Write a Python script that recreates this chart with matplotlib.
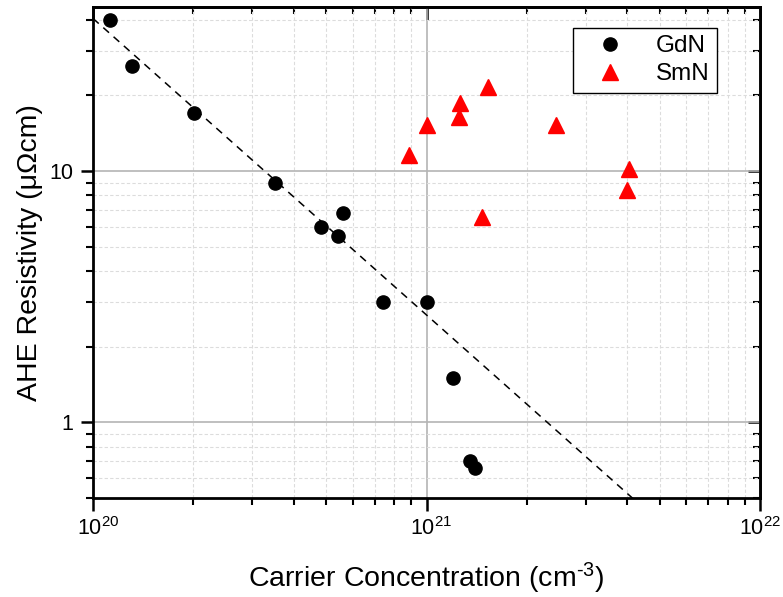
#!/usr/bin/env python3
"""AHE resistivity vs carrier concentration for GdN and SmN films."""

import matplotlib
matplotlib.use("Agg")
import matplotlib.pyplot as plt
import matplotlib.transforms as mtransforms
import numpy as np
from matplotlib.ticker import FixedLocator, LogLocator, NullFormatter

plt.rcParams["font.family"] = ["Liberation Sans", "DejaVu Sans"]
plt.rcParams["mathtext.fontset"] = "custom"
plt.rcParams["mathtext.rm"] = "Liberation Sans"
plt.rcParams["mathtext.it"] = "Liberation Sans:italic"

# GdN samples
gdn_n = [1.125e20, 1.31e20, 2.01e20, 3.51e20, 4.82e20, 5.6e20, 5.42e20,
         7.4e20, 1.0e21, 1.2e21, 1.35e21, 1.40e21]
gdn_rho = [40.0, 26.1, 17.0, 9.0, 6.0, 6.8, 5.5, 3.0, 3.0, 1.5, 0.70, 0.66]

# SmN samples
smn_n = [8.88e20, 1.0e21, 1.26e21, 1.25e21, 1.53e21, 2.44e21, 4.05e21,
         4.0e21, 1.47e21]
smn_rho = [11.6, 15.2, 18.6, 16.4, 21.6, 15.3, 10.2, 8.4, 6.55]

# power-law guide: rho = A * (n / 1e20) ** slope
fit_A = 40.5
fit_slope = -1.18


def main() -> None:
    fig = plt.figure(figsize=(7.83, 5.97), dpi=100)
    ax = fig.add_axes([0.1188, 0.1658, 0.8518, 0.8225])

    ax.set_xscale("log")
    ax.set_yscale("log")
    ax.set_xlim(1e20, 1e22)
    ax.set_ylim(0.5, 45)

    # grid: solid at decades, dashed at minor positions
    ax.grid(True, which="major", color="#b4b4b4", linewidth=1.2, linestyle="-")
    ax.grid(True, which="minor", color="#dcdcdc", linewidth=0.8,
            linestyle=(0, (3, 2)))
    ax.set_axisbelow(True)

    n_fit = np.logspace(20, 22, 200)
    ax.plot(n_fit, fit_A * (n_fit / 1e20) ** fit_slope, color="black",
            linestyle=(0, (5, 4)), linewidth=1.1, zorder=2)

    ax.plot(gdn_n, gdn_rho, "o", color="black", markersize=9.5,
            label="GdN", zorder=3, clip_on=False)
    ax.plot(smn_n, smn_rho, "^", color="red", markersize=12,
            label="SmN", zorder=3)

    ax.yaxis.set_major_locator(FixedLocator([1, 10]))
    ax.set_yticklabels(["1", "10"])
    ax.yaxis.set_minor_locator(LogLocator(base=10, subs=np.arange(2, 10)))
    ax.yaxis.set_minor_formatter(NullFormatter())
    ax.xaxis.set_major_locator(FixedLocator([1e20, 1e21, 1e22]))
    ax.set_xticklabels([r"$10^{20}$", r"$10^{21}$", r"$10^{22}$"])
    ax.xaxis.set_minor_locator(LogLocator(base=10, subs=np.arange(2, 10)))
    ax.xaxis.set_minor_formatter(NullFormatter())

    for side in ax.spines.values():
        side.set_linewidth(2)
    ax.tick_params(which="major", direction="out", length=9, width=1.8,
                   labelsize=15.5, pad=5)
    ax.tick_params(which="minor", direction="out", length=5, width=1.5)

    # nudge the inner decade labels so the mantissa sits under the tick
    shift = mtransforms.ScaledTranslation(5 / 100, 0, fig.dpi_scale_trans)
    for lbl in ax.get_xticklabels()[:-1]:
        lbl.set_transform(lbl.get_transform() + shift)

    # mirrored ticks on top/right pointing inward
    top = ax.secondary_xaxis("top")
    top.xaxis.set_major_locator(FixedLocator([1e20, 1e21, 1e22]))
    top.xaxis.set_minor_locator(LogLocator(base=10, subs=np.arange(2, 10)))
    top.tick_params(which="major", direction="in", length=9, width=1.8,
                    labeltop=False)
    top.tick_params(which="minor", direction="in", length=5, width=1.5)
    top.xaxis.set_minor_formatter(NullFormatter())
    top.spines["top"].set_linewidth(2)

    right = ax.secondary_yaxis("right")
    right.yaxis.set_major_locator(FixedLocator([1, 10]))
    right.yaxis.set_minor_locator(LogLocator(base=10, subs=np.arange(2, 10)))
    right.tick_params(which="major", direction="in", length=9, width=1.8,
                      labelright=False)
    right.tick_params(which="minor", direction="in", length=5, width=1.5)
    right.yaxis.set_minor_formatter(NullFormatter())
    right.spines["right"].set_linewidth(2)

    ax.set_xlabel(r"Carrier Concentration (cm$^{\text{-}3}$)", fontsize=20.5,
                  labelpad=15)
    ax.set_ylabel("AHE Resistivity (\u03bc\u03a9cm)", fontsize=20.5,
                  labelpad=5)

    leg = ax.legend(loc="upper right", bbox_to_anchor=(0.9355, 0.957),
                    borderaxespad=0, fontsize=17.5, frameon=True,
                    fancybox=False, edgecolor="black", framealpha=1,
                    borderpad=0.3, handletextpad=0.7, labelspacing=0.25,
                    handlelength=2.4)
    leg.get_frame().set_linewidth(1.0)

    fig.savefig("out.png", dpi=100)
    plt.close(fig)


if __name__ == "__main__":
    main()
